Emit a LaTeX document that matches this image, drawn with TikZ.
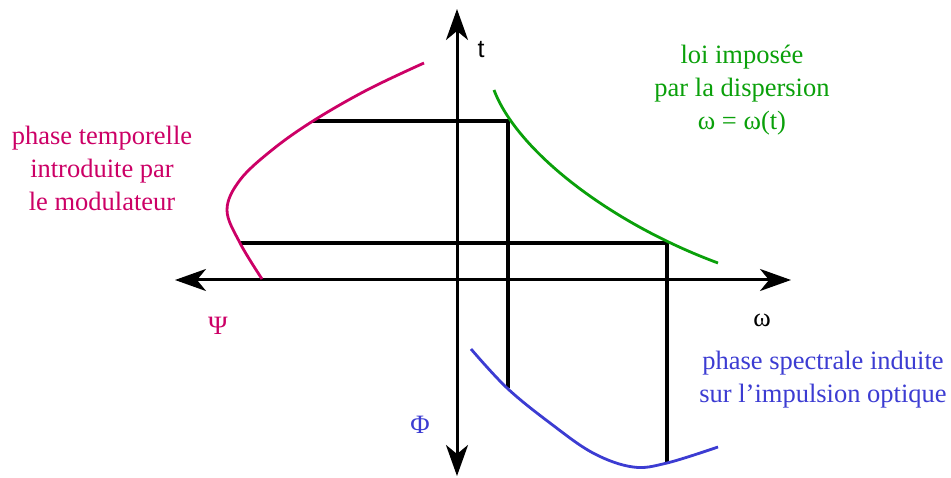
\documentclass[tikz,border=0pt]{standalone}
\usepackage{fontspec}
\setmainfont{Liberation Serif}
\newfontfamily\helv{Liberation Sans}
\usetikzlibrary{arrows.meta}
\definecolor{cmag}{RGB}{204,0,102}
\definecolor{cgreen}{RGB}{10,160,10}
\definecolor{cblue}{RGB}{60,60,210}
\begin{document}
\begin{tikzpicture}[x=1pt,y=-1pt,
  axis/.style={line width=3pt,{Stealth[length=31pt,width=22pt,inset=9pt]}-{Stealth[length=31pt,width=22pt,inset=9pt]}},
  guide/.style={line width=3.2pt},
  curve/.style={line width=2.8pt},
  lbl/.style={font=\fontsize{26.5}{33}\selectfont,align=center,inner sep=0pt}]
\useasboundingbox (0,0) rectangle (951,478);
% axes
\coordinate (xl) at (175,280);
\coordinate (xr) at (791,280);
\coordinate (yt) at (457,9);
\coordinate (yb) at (457,476);
\draw[axis] (xl) -- (xr);
\draw[axis] (yt) -- (yb);
% guide corners
\coordinate (a1) at (313,121);
\coordinate (a2) at (508,121);
\coordinate (a3) at (508,388);
\coordinate (b1) at (240,243);
\coordinate (b2) at (667,243);
\coordinate (b3) at (667,464);
\draw[guide] (a1) -- (a2) -- (a3);
\draw[guide] (b1) -- (b2) -- (b3);
% curves
\draw[curve,cmag] plot[smooth,tension=0.6] coordinates {(262,279) (240,243) (227,210) (240,180) (272,150) (313,121) (367,90) (424,63)};
\coordinate (g0) at (494,90);
\coordinate (g1) at (718,263);
\draw[curve,cgreen] (g0) .. controls (517,151) and (610,223) .. (g1);
\draw[curve,cblue] plot[smooth,tension=0.6] coordinates {(471,349) (507,388) (550,423) (593,453) (633,467) (667,463) (718,447)};
% labels
\node[lbl,font=\helv\fontsize{25}{28}\selectfont] (tl) at (481,50) {t};
\node[lbl] (wl) at (762,320) {ω};
\node[lbl,cmag] (psil) at (218,326) {Ψ};
\node[lbl,cblue] (phil) at (420,425) {Φ};
\node[lbl,cgreen] (disp) at (742,90) {loi imposée\\par la dispersion\\ω = ω(t)};
\node[lbl,cmag] (mod) at (102,168) {phase temporelle\\introduite par\\le modulateur};
\node[lbl,cblue] (spec) at (823,380) {phase spectrale induite\\sur l’impulsion optique};
\end{tikzpicture}
\end{document}
